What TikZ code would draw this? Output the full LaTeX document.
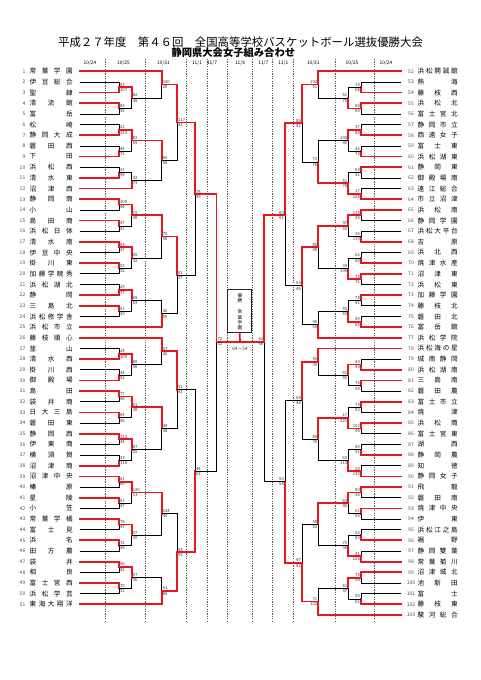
\documentclass[tikz,border=0pt]{standalone}
\usepackage{fontspec}
\setmainfont{Noto Sans CJK JP}
\usetikzlibrary{calc}
\definecolor{brk}{RGB}{232,22,32}
\newlength\nmw
\def\distaux#1#2\distend{#1\if\relax\detokenize{#2}\relax\else\hfill\distaux#2\distend\fi}
\newcommand\dist[1]{\makebox[\nmw][s]{\distaux#1\distend}}
\newcommand\lteam[2]{%
  \pgfmathsetmacro\ty{71.3+(#1-1)*10.66}%
  \coordinate (T#1) at (79.5,\ty);
  \node[numl] (N#1) at (25.5,\ty) {#1};
  \node[nml] (M#1) at (29.5,\ty) {\dist{#2}};
}
\newcommand\rteam[2]{%
  \pgfmathsetmacro\ty{71.3+(#1-52)*10.66}%
  \coordinate (T#1) at (401,\ty);
  \node[numr] (N#1) at (411,\ty) {#1};
  \node[nml] (M#1) at (417.5,\ty) {\dist{#2}};
}
% #1 optional y, #2 name, #3 column, #4 top child, #5 bottom child, #6 winner, #7 #8 scores
\newcommand\mt[8][]{%
  \if\relax\detokenize{#1}\relax
    \coordinate (tmp) at ($(#4)!0.5!(#5)$);
  \else
    \coordinate (tmp) at (0,#1);
  \fi
  \coordinate (#2) at (tmp -| #3);
  \ifnum#6=1
    \draw[lose] (#5) -- (#5 -| #2) -- (#2);
    \draw[win] (#4) -- (#4 -| #2) -- (#2);
  \else
    \draw[lose] (#4) -- (#4 -| #2) -- (#2);
    \draw[win] (#5) -- (#5 -| #2) -- (#2);
  \fi
  \node[sc,scT] (#2a) at (#2) {#7};
  \node[sc,scB] (#2b) at (#2) {#8};
}
\begin{document}
\begin{tikzpicture}[x=1pt,y=-1pt,
  win/.style={draw=brk, line width=1.7pt, line cap=rect},
  lose/.style={draw=black, line width=0.7pt},
  datecol/.style={draw=black!65, line width=0.45pt, dash pattern=on 1.2pt off 1.2pt},
  datelbl/.style={font=\fontsize{4.8}{5}\selectfont, inner sep=0},
  numl/.style={anchor=east, inner sep=0, text=black!70, font=\fontsize{5}{5}\selectfont},
  numr/.style={inner sep=0, text=black!70, font=\fontsize{5}{5}\selectfont},
  nml/.style={anchor=west, inner sep=0, font=\fontsize{6.6}{7}\selectfont},
  sc/.style={inner sep=0, text=black!80, font=\fontsize{4.2}{4.4}\selectfont},
  scT/.style={anchor=base west, xshift=0.9pt, yshift=1pt},
  scB/.style={anchor=north west, xshift=0.9pt, yshift=-1pt}]
\useasboundingbox (0,0) rectangle (481,680);
\fill[white] (0,0) rectangle (481,680);
% columns
\coordinate (LA) at (119,0);   \coordinate (LB) at (131.7,0);
\coordinate (LC) at (161.7,0); \coordinate (LD) at (177,0);
\coordinate (LE) at (195,0);
\coordinate (RA) at (361,0);   \coordinate (RB) at (348.3,0);
\coordinate (RC) at (318.3,0); \coordinate (RD) at (302,0);
\coordinate (RE) at (285,0);
% title
\node[font=\fontsize{11.4}{12}\selectfont, inner sep=0] (title1) at (240.5,42) {平成２７年度　第４６回　全国高等学校バスケットボール選抜優勝大会};
\node[font=\bfseries\fontsize{10.3}{11}\selectfont, inner sep=0] (title2) at (233.3,53) {静岡県大会女子組み合わせ};
% date columns
\foreach \x in {105.3,145,186.7,207.3,227.7,252.3,272.7,293.3,335,374.7}
  \draw[datecol] (\x,59) -- (\x,622);
\node[datelbl] (d1) at (90,63.3) {10/24};
\node[datelbl] (d2) at (123.5,63.3) {10/25};
\node[datelbl] (d3) at (163.5,63.3) {10/31};
\node[datelbl] (d4) at (197,63.3) {11/1};
\node[datelbl] (d5) at (212,63.3) {11/7};
\node[datelbl] (d6) at (240,63.3) {11/8};
\node[datelbl] (d7) at (263.3,63.3) {11/7};
\node[datelbl] (d8) at (283.3,63.3) {11/1};
\node[datelbl] (d9) at (313.3,63.3) {10/31};
\node[datelbl] (d10) at (352,63.3) {10/25};
\node[datelbl] (d11) at (386,63.3) {10/24};
% left teams
\setlength\nmw{43pt}
\lteam{1}{常葉学園}\lteam{2}{伊豆総合}\lteam{3}{聖隷}\lteam{4}{清流館}\lteam{5}{富岳}
\lteam{6}{松崎}\lteam{7}{静岡大成}\lteam{8}{磐田西}\lteam{9}{下田}\lteam{10}{浜松西}
\lteam{11}{清水東}\lteam{12}{沼津西}\lteam{13}{静岡商}\lteam{14}{小山}\lteam{15}{島田商}
\lteam{16}{浜松日体}\lteam{17}{清水南}\lteam{18}{伊豆中央}\lteam{19}{掛川東}\lteam{20}{加藤学暁秀}
\lteam{21}{浜松湖北}\lteam{22}{静岡}\lteam{23}{三島北}\lteam{24}{浜松修学舎}\lteam{25}{浜松市立}
\lteam{26}{藤枝順心}\lteam{27}{韮山}\lteam{28}{清水西}\lteam{29}{掛川西}\lteam{30}{御殿場}
\lteam{31}{島田}\lteam{32}{袋井商}\lteam{33}{日大三島}\lteam{34}{磐田東}\lteam{35}{静岡西}
\lteam{36}{伊東商}\lteam{37}{横須賀}\lteam{38}{沼津商}\lteam{39}{沼津中央}\lteam{40}{榛原}
\lteam{41}{星陵}\lteam{42}{小笠}\lteam{43}{常葉学橘}\lteam{44}{富士見}\lteam{45}{浜名}
\lteam{46}{田方農}\lteam{47}{袋井}\lteam{48}{相良}\lteam{49}{富士宮西}\lteam{50}{浜松学芸}
\lteam{51}{東海大翔洋}
% right teams
\setlength\nmw{40pt}
\rteam{52}{浜松開誠館}\rteam{53}{熱海}\rteam{54}{藤枝西}\rteam{55}{浜松北}\rteam{56}{富士宮北}
\rteam{57}{静岡市立}\rteam{58}{西遠女子}\rteam{59}{富士東}\rteam{60}{浜松湖東}\rteam{61}{静岡東}
\rteam{62}{御殿場南}\rteam{63}{遠江総合}\rteam{64}{市立沼津}\rteam{65}{浜松南}\rteam{66}{静岡学園}
\rteam{67}{浜松大平台}\rteam{68}{吉原}\rteam{69}{浜北西}\rteam{70}{焼津水産}\rteam{71}{沼津東}
\rteam{72}{浜松東}\rteam{73}{加藤学園}\rteam{74}{藤枝北}\rteam{75}{磐田北}\rteam{76}{富岳館}
\rteam{77}{浜松学院}\rteam{78}{浜松海の星}\rteam{79}{城南静岡}\rteam{80}{浜松湖南}\rteam{81}{三島南}
\rteam{82}{磐田農}\rteam{83}{富士市立}\rteam{84}{焼津}\rteam{85}{浜松商}\rteam{86}{富士宮東}
\rteam{87}{湖西}\rteam{88}{静岡農}\rteam{89}{知徳}\rteam{90}{静岡女子}\rteam{91}{飛龍}
\rteam{92}{磐田南}\rteam{93}{焼津中央}\rteam{94}{伊東}\rteam{95}{浜松江之島}\rteam{96}{裾野}
\rteam{97}{静岡雙葉}\rteam{98}{常葉菊川}\rteam{99}{沼津城北}\rteam{100}{池新田}\rteam{101}{富士}
\rteam{102}{藤枝東}\rteam{103}{駿河総合}
% left bracket
\mt{m2}{LA}{T2}{T3}{2}{51}{107}
\mt{m4}{LA}{T4}{T5}{1}{83}{35}
\mt{m2b}{LB}{m2}{m4}{1}{82}{49}
\mt{m1}{LC}{T1}{m2b}{1}{100}{28}
\mt{m6}{LA}{T6}{T7}{2}{21}{113}
\mt{m8}{LA}{T8}{T9}{2}{44}{71}
\mt{m6b}{LB}{m6}{m8}{1}{82}{59}
\mt{m10}{LA}{T10}{T11}{2}{31}{98}
\mt{m10b}{LB}{m10}{T12}{2}{42}{73}
\mt{m6c}{LC}{m6b}{m10b}{1}{60}{58}
\mt{m1d}{LD}{m1}{m6c}{1}{117}{31}
\mt{m13}{LA}{T13}{T14}{1}{109}{44}
\mt{m15}{LA}{T15}{T16}{1}{47}{41}
\mt{m13b}{LB}{m13}{m15}{1}{72}{48}
\mt{m17}{LA}{T17}{T18}{1}{63}{37}
\mt{m19}{LA}{T19}{T20}{1}{53}{32}
\mt{m17b}{LB}{m17}{m19}{1}{65}{32}
\mt{m13c}{LC}{m13b}{m17b}{1}{76}{58}
\mt{m21}{LA}{T21}{T22}{2}{29}{77}
\mt{m23}{LA}{T23}{T24}{1}{51}{30}
\mt{m21b}{LB}{m21}{m23}{1}{69}{53}
\mt{m21c}{LC}{m21b}{T25}{2}{42}{55}
\mt{m13d}{LD}{m13c}{m21c}{1}{81}{27}
\mt[194.3]{LE1}{LE}{m1d}{m13d}{1}{78}{59}
\mt{m27}{LA}{T27}{T28}{2}{24}{109}
\mt{m29}{LA}{T29}{T30}{2}{34}{52}
\mt{m27b}{LB}{m27}{m29}{1}{68}{56}
\mt{m26c}{LC}{T26}{m27b}{1}{57}{42}
\mt{m31}{LA}{T31}{T32}{1}{77}{46}
\mt{m33}{LA}{T33}{T34}{1}{64}{36}
\mt{m31b}{LB}{m31}{m33}{1}{61}{38}
\mt{m35}{LA}{T35}{T36}{1}{113}{34}
\mt{m37}{LA}{T37}{T38}{2}{33}{118}
\mt{m35b}{LB}{m35}{m37}{1}{87}{55}
\mt{m31c}{LC}{m31b}{m35b}{1}{44}{38}
\mt{m26d}{LD}{m26c}{m31c}{1}{51}{41}
\mt{m39}{LA}{T39}{T40}{1}{61}{40}
\mt{m41}{LA}{T41}{T42}{1}{51}{47}
\mt{m39b}{LB}{m39}{m41}{1}{120}{13}
\mt{m43}{LA}{T43}{T44}{1}{79}{47}
\mt{m45}{LA}{T45}{T46}{1}{72}{39}
\mt{m43b}{LB}{m43}{m45}{1}{57}{50}
\mt{m39c}{LC}{m39b}{m43b}{1}{124}{40}
\mt{m47}{LA}{T47}{T48}{1}{56}{42}
\mt{m49}{LA}{T49}{T50}{1}{70}{31}
\mt{m47b}{LB}{m47}{m49}{1}{57}{36}
\mt{m47c}{LC}{m47b}{T51}{2}{61}{86}
\mt{m39d}{LD}{m39c}{m47c}{2}{54}{59}
\mt{LE2}{LE}{m26d}{m39d}{2}{44}{62}
% right bracket
\tikzset{scT/.style={anchor=base east, xshift=-0.9pt, yshift=1pt},
         scB/.style={anchor=north east, xshift=-0.9pt, yshift=-1pt}}
\mt{n53}{RA}{T53}{T54}{2}{19}{68}
\mt{n55}{RA}{T55}{T56}{1}{66}{60}
\mt{n53b}{RB}{n53}{n55}{2}{61}{76}
\mt{n52c}{RC}{T52}{n53b}{1}{102}{51}
\mt{n57}{RA}{T57}{T58}{2}{37}{88}
\mt{n59}{RA}{T59}{T60}{2}{42}{73}
\mt{n57b}{RB}{n57}{n59}{1}{100}{40}
\mt{n61}{RA}{T61}{T62}{1}{64}{31}
\mt{n63}{RA}{T63}{T64}{2}{17}{126}
\mt{n61b}{RB}{n61}{n63}{2}{51}{78}
\mt{n57c}{RC}{n57b}{n61b}{2}{73}{76}
\mt{n52d}{RD}{n52c}{n57c}{1}{86}{42}
\mt{n65}{RA}{T65}{T66}{1}{115}{30}
\mt{n67}{RA}{T67}{T68}{2}{36}{119}
\mt{n65b}{RB}{n65}{n67}{1}{97}{33}
\mt{n69}{RA}{T69}{T70}{2}{62}{80}
\mt{n71}{RA}{T71}{T72}{1}{73}{71}
\mt{n69b}{RB}{n69}{n71}{2}{34}{100}
\mt{n65c}{RC}{n65b}{n69b}{1}{85}{48}
\mt{n73}{RA}{T73}{T74}{1}{78}{41}
\mt{n75}{RA}{T75}{T76}{2}{40}{65}
\mt{n73b}{RB}{n73}{n75}{2}{55}{63}
\mt{n73c}{RC}{n73b}{T77}{2}{45}{60}
\mt{n65d}{RD}{n65c}{n73c}{1}{54}{46}
\mt[215]{RE1}{RE}{n52d}{n65d}{1}{80}{61}
\mt{n79}{RA}{T79}{T80}{2}{43}{90}
\mt{n81}{RA}{T81}{T82}{1}{76}{58}
\mt{n79b}{RB}{n79}{n81}{1}{61}{55}
\mt{n78c}{RC}{T78}{n79b}{1}{55}{35}
\mt{n83}{RA}{T83}{T84}{1}{73}{52}
\mt{n85}{RA}{T85}{T86}{1}{102}{46}
\mt{n83b}{RB}{n83}{n85}{2}{17}{121}
\mt{n87}{RA}{T87}{T88}{2}{40}{91}
\mt{n89}{RA}{T89}{T90}{2}{20}{130}
\mt{n87b}{RB}{n87}{n89}{2}{63}{113}
\mt{n83c}{RC}{n83b}{n87b}{1}{85}{76}
\mt{n78d}{RD}{n78c}{n83c}{1}{58}{48}
\mt{n91}{RA}{T91}{T92}{1}{80}{36}
\mt{n93}{RA}{T93}{T94}{1}{61}{55}
\mt{n91b}{RB}{n91}{n93}{1}{63}{48}
\mt{n95}{RA}{T95}{T96}{2}{52}{85}
\mt{n97}{RA}{T97}{T98}{2}{41}{126}
\mt{n95b}{RB}{n95}{n97}{2}{75}{98}
\mt{n91c}{RC}{n91b}{n95b}{1}{58}{52}
\mt{n99}{RA}{T99}{T100}{1}{75}{26}
\mt{n101}{RA}{T101}{T102}{2}{40}{61}
\mt{n99b}{RB}{n99}{n101}{1}{61}{47}
\mt{n99c}{RC}{n99b}{T103}{2}{71}{102}
\mt{n91d}{RD}{n91c}{n99c}{2}{47}{92}
\mt{RE2}{RE}{n78d}{n91d}{2}{50}{54}
% final
\node[draw=black!85, line width=1pt, fill=white, minimum width=24pt, minimum height=42.7pt, inner sep=0] (box) at (239.7,311.3) {};
\node[font=\fontsize{4.6}{5.2}\selectfont, align=center, inner sep=0] (boxt) at (240,311.6) {優\\勝\\[6.5pt]常\\葉\\学\\園};
\coordinate (FL) at (216.5,341.7);
\coordinate (FR) at (264.3,341.7);
\coordinate (FC) at (240,341.7);
\draw[lose] (LE2) -- (LE2 -| FL) -- (FL);
\draw[lose] (RE2) -- (RE2 -| FR) -- (FR);
\draw[win] (LE1) -- (LE1 -| FL) -- (FL) -- (FC);
\draw[win] (RE1) -- (RE1 -| FR) -- (FR) -- (FC);
\draw[win] (FC) -- (box.south);
\node[sc, anchor=base west, xshift=0.9pt, yshift=1pt] (fla) at (FL) {72};
\node[sc, anchor=north west, xshift=0.9pt, yshift=-1pt] (flb) at (FL) {52};
\node[sc, anchor=base east, xshift=-0.9pt, yshift=1pt] (fra) at (FR) {62};
\node[sc, anchor=north east, xshift=-0.9pt, yshift=-1pt] (frb) at (FR) {48};
\node[sc, font=\fontsize{4.8}{5}\selectfont] (fscore) at (240,348.5) {64－54};
\end{tikzpicture}
\end{document}
